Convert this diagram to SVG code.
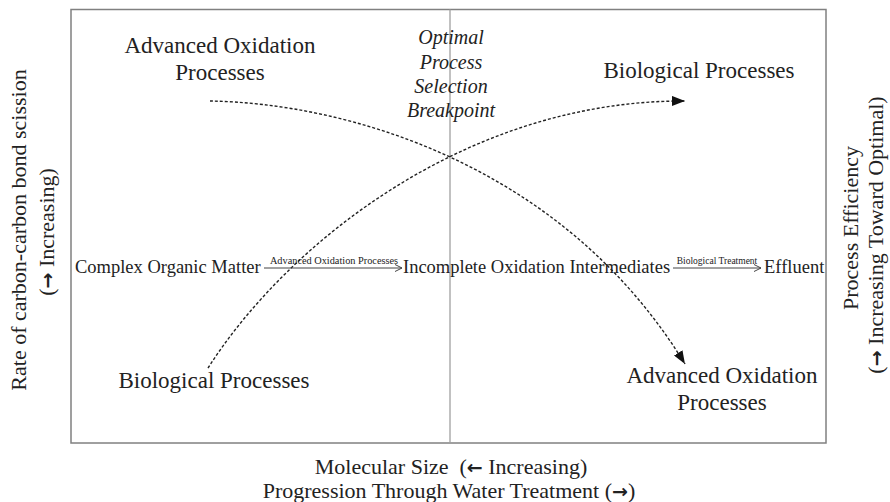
<svg xmlns="http://www.w3.org/2000/svg" width="890" height="502" viewBox="0 0 890 502">
<style>
text{font-family:"Liberation Serif","Times New Roman",serif;fill:#222}
.big{font-size:23px;text-anchor:middle}
.it{font-size:20px;font-style:italic;text-anchor:middle}
.mid{font-size:18.5px}
.sm{font-size:9.5px;text-anchor:middle}
.ax{font-size:22px;text-anchor:middle}
.arw{font-family:"DejaVu Sans",sans-serif;font-weight:bold}
.frame{fill:none;stroke:#808080;stroke-width:1.5}
.grid{stroke:#a0a0a0;stroke-width:1.3}
.curve{fill:none;stroke:#222;stroke-width:1.4;stroke-dasharray:3 2}
.flow{stroke:#444;stroke-width:1}
</style>
<defs>
<marker id="head" markerUnits="userSpaceOnUse" markerWidth="14" markerHeight="10" refX="13" refY="5" orient="auto">
<path d="M0,0 L13,5 L0,10 z" fill="#111"/>
</marker>
<marker id="thin" markerUnits="userSpaceOnUse" markerWidth="8" markerHeight="8" refX="7" refY="4" orient="auto">
<path d="M0,0.5 L7,4 L0,7.5" fill="none" stroke="#444" stroke-width="1"/>
</marker>
</defs>
<rect width="890" height="502" fill="#fff"/>
<g id="frame">
<rect class="frame" x="71" y="9.5" width="755" height="433.5"/>
<line class="grid" x1="450" y1="9.5" x2="450" y2="443"/>
</g>
<g id="connectors">
<path class="curve" d="M210,101 C340,103 560,160 685,364" marker-end="url(#head)"/>
<path class="curve" d="M208,368 C290,240 470,100 685,101" marker-end="url(#head)"/>
<line class="flow" x1="264" y1="268" x2="402" y2="268" marker-end="url(#thin)"/>
<text class="sm" x="334" y="264" style="font-size:10.3px">Advanced Oxidation Processes</text>
<line class="flow" x1="673" y1="268" x2="761" y2="268" marker-end="url(#thin)"/>
<text class="sm" x="717" y="264">Biological Treatment</text>
</g>
<g id="aop-top"><text class="big" x="220" y="53">Advanced Oxidation</text><text class="big" x="220" y="80">Processes</text></g>
<g id="bio-top"><text class="big" x="699" y="78">Biological Processes</text></g>
<g id="breakpoint"><text class="it" x="451" y="44">Optimal</text><text class="it" x="451" y="68.5">Process</text><text class="it" x="451" y="93">Selection</text><text class="it" x="451" y="117">Breakpoint</text></g>
<g id="bio-bottom"><text class="big" x="214" y="388">Biological Processes</text></g>
<g id="aop-bottom"><text class="big" x="722" y="383">Advanced Oxidation</text><text class="big" x="722" y="410">Processes</text></g>
<g id="complex"><text class="mid" x="75" y="273">Complex Organic Matter</text></g>
<g id="intermediates"><text class="mid" x="403" y="273">Incomplete Oxidation Intermediates</text></g>
<g id="effluent"><text class="mid" x="764" y="273">Effluent</text></g>
<g id="x-axis"><text class="ax" x="451" y="474" xml:space="preserve">Molecular Size  (<tspan class="arw" font-size="19">←</tspan> Increasing)</text><text class="ax" x="449" y="498">Progression Through Water Treatment (<tspan class="arw" font-size="19">→</tspan>)</text></g>
<g id="y-left"><text class="ax" transform="translate(26,230) rotate(-90)">Rate of carbon-carbon bond scission</text><text class="ax" transform="translate(54,232) rotate(-90)">(<tspan class="arw" font-size="19">→</tspan> Increasing)</text></g>
<g id="y-right"><text class="ax" transform="translate(858,228) rotate(-90)">Process Efficiency</text><text class="ax" transform="translate(883,235) rotate(-90)">(<tspan class="arw" font-size="19">→</tspan> Increasing Toward Optimal)</text></g>
</svg>
